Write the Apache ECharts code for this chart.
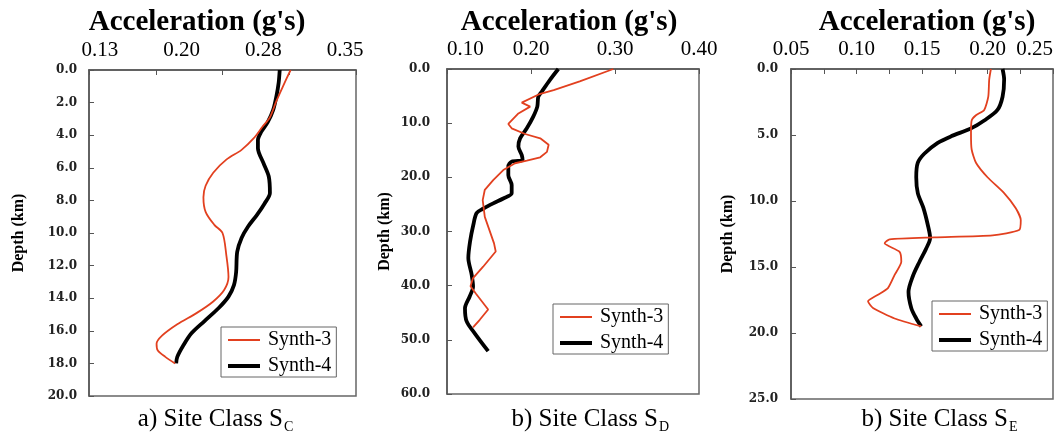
<!DOCTYPE html>
<html>
<head>
<meta charset="utf-8">
<script src="https://cdn.jsdelivr.net/npm/echarts@6/dist/echarts.min.js"></script>
<style>
html, body { margin: 0; padding: 0; background: #fff; }
#chart { width: 1054px; height: 435px; }
</style>
</head>
<body>
<div id="chart"></div>
<script>
// a) Site Class SC  (depth in km, acceleration in g)
var scDepth3 = [0, 1.0, 1.9, 2.9, 3.5, 4.2, 4.9, 5.5, 6.3, 7.1, 7.8, 8.7, 9.5, 10.0, 11.35, 12.7, 13.5, 14.2, 14.9, 15.6, 16.3, 16.8, 17.2, 17.6, 18.0];
var scAcc3 = [0.300, 0.293, 0.287, 0.281, 0.274, 0.266, 0.255, 0.241, 0.229, 0.222, 0.220, 0.222, 0.230, 0.2375, 0.241, 0.243, 0.239, 0.229, 0.214, 0.196, 0.182, 0.177, 0.178, 0.185, 0.194];
var scDepth4 = [0, 0.8, 1.6, 2.45, 3.2, 3.8, 4.3, 4.8, 5.7, 6.55, 7.55, 8.2, 8.9, 9.6, 10.3, 11.15, 12.4, 13.2, 13.9, 14.6, 15.4, 16.15, 16.9, 17.6, 18.0];
var scAcc4 = [0.290, 0.289, 0.287, 0.284, 0.279, 0.273, 0.270, 0.270, 0.275, 0.280, 0.281, 0.276, 0.269, 0.261, 0.255, 0.251, 0.250, 0.248, 0.243, 0.234, 0.221, 0.209, 0.2015, 0.196, 0.195];

// b) Site Class SD
var sdDepth3 = [0, 2.3, 3.9, 4.7, 6.2, 6.95, 8.2, 10.15, 10.95, 12.0, 12.8, 14.0, 15.3, 16.3, 16.9, 17.4, 18.65, 20.5, 22.3, 24.2, 27.3, 32.2, 33.7, 36.5, 38.6, 40.1, 41.5, 44.4, 46.3, 47.7];
var sdAcc3 = [0.298, 0.258, 0.227, 0.209, 0.189, 0.199, 0.185, 0.173, 0.177, 0.193, 0.211, 0.221, 0.219, 0.211, 0.195, 0.181, 0.167, 0.155, 0.145, 0.1425, 0.145, 0.156, 0.158, 0.143, 0.131, 0.128, 0.1345, 0.149, 0.139, 0.131];
var sdDepth4 = [0, 2.0, 4.2, 5.1, 6.95, 8.8, 10.95, 12.8, 14.3, 15.9, 16.8, 17.1, 18.0, 19.6, 21.4, 22.95, 23.9, 24.8, 25.8, 26.6, 28.8, 31.9, 34.9, 38.0, 40.2, 42.0, 44.2, 46.6, 48.8, 52.1];
var sdAcc4 = [0.2325, 0.2226, 0.2127, 0.2087, 0.2075, 0.2027, 0.195, 0.187, 0.185, 0.189, 0.190, 0.177, 0.173, 0.173, 0.177, 0.177, 0.167, 0.155, 0.143, 0.1353, 0.1313, 0.1274, 0.1254, 0.1294, 0.131, 0.127, 0.1214, 0.1234, 0.133, 0.149];

// b) Site Class SE
var seDepth3 = [0, 0.8, 2.1, 3.1, 3.5, 3.9, 4.9, 6.1, 7.1, 8.2, 9.4, 10.55, 11.45, 12.2, 12.6, 12.75, 12.9, 13.2, 13.85, 14.6, 15.6, 16.6, 17.1, 17.6, 18.1, 18.9, 19.5];
var seAcc3 = [0.2026, 0.2013, 0.2006, 0.1975, 0.1912, 0.1879, 0.1874, 0.1879, 0.1912, 0.200, 0.2127, 0.2216, 0.2254, 0.2241, 0.2039, 0.1595, 0.1253, 0.1215, 0.1329, 0.1342, 0.1291, 0.124, 0.1164, 0.1088, 0.1126, 0.1291, 0.1494];
var seDepth4 = [0, 0.8, 2.1, 3.1, 3.9, 4.5, 5.1, 5.6, 6.4, 7.1, 8.2, 9.4, 10.5, 11.8, 12.8, 13.6, 14.6, 15.7, 16.9, 18.1, 18.9, 19.5];
var seAcc4 = [0.2115, 0.2127, 0.2115, 0.2076, 0.1975, 0.1874, 0.1722, 0.162, 0.1519, 0.1468, 0.1456, 0.1468, 0.151, 0.1544, 0.1562, 0.1532, 0.1481, 0.143, 0.1397, 0.1418, 0.1456, 0.1494];

// tick labels on the acceleration axes
var scAccLabels = [0.125, 0.20, 0.275, 0.35];
var sdAccLabels = [0.10, 0.20, 0.30, 0.40];
var seAccLabels = [0.05, 0.10, 0.15, 0.20, 0.25];

var seriesNames = ['Synth-3', 'Synth-4'];

var serif = 'Liberation Serif';

function pairs(depth, acc) {
	return depth.map(function(d, i) { return [acc[i], d]; });
}
function evenTicks(min, max, n) {
	var out = [];
	for (var k = 0; k <= n; k++) out.push(min + k * (max - min) / n);
	return out;
}

var panels = [
	{ grid: [89, 70, 267, 326], xMin: 0.115, xMax: 0.36, xDiv: 4, labels: scAccLabels, yMax: 20, yStep: 2, nameGap: 62, yMargin: 12,
	  titleX: 197, capX: 283, cap: 'a) Site Class S', sub: 'C', legend: [221, 327],
	  d3: pairs(scDepth3, scAcc3), d4: pairs(scDepth4, scAcc4), smooth3: 0.3 },
	{ grid: [447, 69, 252, 325], xMin: 0.10, xMax: 0.40, xDiv: 3, labels: sdAccLabels, yMax: 60, yStep: 10, nameGap: 54, yMargin: 17,
	  titleX: 569, capX: 658, cap: 'b) Site Class S', sub: 'D', legend: [553, 304],
	  d3: pairs(sdDepth3, sdAcc3), d4: pairs(sdDepth4, sdAcc4), smooth3: 0 },
	{ grid: [791, 69, 262, 330], xMin: 0.05, xMax: 0.25, xDiv: 8, labels: seAccLabels, yMax: 25, yStep: 5, nameGap: 55, yMargin: 13,
	  titleX: 927, capX: 1008, cap: 'b) Site Class S', sub: 'E', legend: [932, 301],
	  d3: pairs(seDepth3, seAcc3), d4: pairs(seDepth4, seAcc4), smooth3: 0.2 }
];

var option = {
	backgroundColor: '#fff',
	animation: false,
	title: [], grid: [], xAxis: [], yAxis: [], legend: [], series: []
};

panels.forEach(function(p, i) {
	option.grid.push({
		left: p.grid[0], top: p.grid[1], width: p.grid[2], height: p.grid[3],
		outerBoundsMode: 'none', containLabel: false,
		show: true, backgroundColor: '#fff', borderColor: '#666', borderWidth: 1.5
	});
	option.xAxis.push({
		type: 'value', gridIndex: i, position: 'top', min: p.xMin, max: p.xMax,
		axisLine: { show: true, lineStyle: { color: '#555', width: 1.5 } },
		axisTick: { show: true, inside: true, length: 5, lineStyle: { color: '#555' },
			customValues: evenTicks(p.xMin, p.xMax, p.xDiv) },
		axisLabel: { customValues: p.labels, margin: 9, fontFamily: serif, fontSize: 21, color: '#000',
			alignMinLabel: i === 1 ? 'left' : 'center', alignMaxLabel: i === 2 ? 'right' : 'center',
			formatter: function(v) { return v.toFixed(2); } },
		splitLine: { show: false }
	});
	option.yAxis.push({
		type: 'value', gridIndex: i, inverse: true, min: 0, max: p.yMax, interval: p.yStep,
		name: 'Depth (km)', nameLocation: 'middle', nameRotate: 90, nameGap: p.nameGap,
		nameTextStyle: { fontFamily: serif, fontWeight: 'bold', fontSize: 16, color: '#000' },
		axisLine: { show: true, lineStyle: { color: '#555', width: 1.5 } },
		axisTick: { show: true, inside: true, length: 5, lineStyle: { color: '#555' } },
		axisLabel: { margin: p.yMargin, fontFamily: 'DejaVu Serif', fontWeight: 'bold', fontSize: 12, color: '#222',
			formatter: function(v) { return v.toFixed(1); } },
		splitLine: { show: false }
	});
	option.title.push({
		text: "Acceleration (g's)", left: p.titleX, top: 8, padding: 0, textAlign: 'center',
		textStyle: { fontFamily: serif, fontWeight: 'bold', fontSize: 29, color: '#000' }
	});
	// caption, then the subscript site class letter right after it
	option.title.push({
		text: p.cap, left: p.capX, top: 407, padding: 0, textAlign: 'right',
		textStyle: { fontFamily: serif, fontWeight: 'normal', fontSize: 25, color: '#000' }
	});
	option.title.push({
		text: p.sub, left: p.capX + 1, top: 420, padding: 0, textAlign: 'left',
		textStyle: { fontFamily: serif, fontWeight: 'normal', fontSize: 14, color: '#000' }
	});
	option.legend.push({
		orient: 'vertical', left: p.legend[0], top: p.legend[1],
		data: [
			{ name: seriesNames[0], icon: 'path://M0,0L32,0L32,2L0,2Z' },
			{ name: seriesNames[1], icon: 'path://M0,0L32,0L32,4L0,4Z' }
		],
		itemWidth: 32, itemHeight: 14, itemGap: 6, padding: [3, 5, 1, 7],
		borderColor: '#666', borderWidth: 1, backgroundColor: '#fff', selectedMode: false,
		textStyle: { fontFamily: serif, fontSize: 20, color: '#000', padding: [0, 0, 0, 3] }
	});
	option.series.push({
		name: seriesNames[1], type: 'line', xAxisIndex: i, yAxisIndex: i, data: p.d4,
		symbol: 'none', smooth: 0.3, lineStyle: { color: '#000', width: 3.8 }, itemStyle: { color: '#000' }
	});
	option.series.push({
		name: seriesNames[0], type: 'line', xAxisIndex: i, yAxisIndex: i, data: p.d3,
		symbol: 'none', smooth: p.smooth3, lineStyle: { color: '#e2401f', width: 1.8 }, itemStyle: { color: '#e2401f' }
	});
});

var chart = echarts.init(document.getElementById('chart'));
chart.setOption(option);
window.onresize = chart.resize;
</script>
</body>
</html>
